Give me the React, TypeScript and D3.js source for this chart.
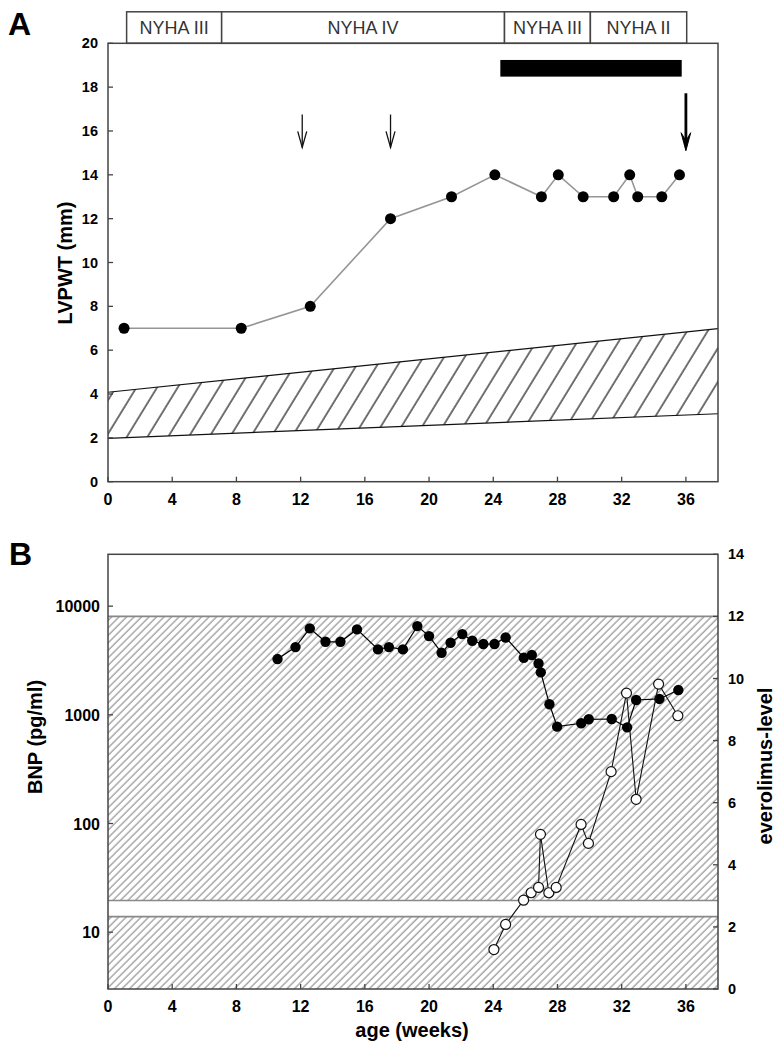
import React from "react";
import * as d3 from "d3";

// ---------- Panel A data ----------
const lvWeeks = [1.0, 8.3, 12.6, 17.6, 21.4, 24.1, 27.0, 28.05, 29.6, 31.5, 32.5, 33.0, 34.5, 35.6];
const lvValues = [7, 7, 8, 12, 13, 14, 13, 14, 13, 13, 14, 13, 13, 14];
const normalWeeks = [0, 38];
const normalUpper = [4.08, 6.98];
const normalLower = [1.98, 3.1];
const nyhaLabels = ["NYHA III", "NYHA IV", "NYHA III", "NYHA II"];
const nyhaBounds = [1.16, 7.08, 24.7, 30.05, 36.05];
const therapyBar = [24.44, 35.74]; // weeks
const therapyBarY = [18.48, 19.24];
const thinArrowWeeks = [12.1, 17.6];
const thickArrowWeek = 36.0;
const yTicksA = [0, 2, 4, 6, 8, 10, 12, 14, 16, 18, 20];
const xTicks = [0, 4, 8, 12, 16, 20, 24, 28, 32, 36];

// ---------- Panel B data ----------
const bnpWeeks = [10.56, 11.68, 12.57, 13.55, 14.48, 15.51, 16.82, 17.5, 18.37, 19.27, 20.0, 20.78, 21.34, 22.07, 22.69, 23.38, 24.08, 24.77, 25.9, 26.4, 26.82, 26.96, 27.5, 27.98, 29.48, 29.95, 31.38, 32.34, 32.9, 34.35, 35.53];
const bnpValues = [3260, 4200, 6240, 4700, 4700, 6110, 4000, 4200, 4000, 6550, 5300, 3720, 4600, 5530, 4800, 4480, 4480, 5150, 3350, 3550, 2970, 2460, 1250, 778, 836, 910, 915, 767, 1370, 1400, 1690];
const evWeeks = [24.04, 24.77, 25.89, 26.36, 26.82, 26.94, 27.46, 27.92, 29.47, 29.93, 31.34, 32.3, 32.9, 34.3, 35.5];
const evValues = [1.27, 2.08, 2.86, 3.1, 3.27, 4.98, 3.1, 3.27, 5.3, 4.69, 7.0, 9.53, 6.11, 9.82, 8.8];
const bnpTicks = [10, 100, 1000, 10000];
const evTicks = [0, 2, 4, 6, 8, 10, 12, 14];
const evBandUpper = [2.85, 12];
const evBandLower = [0, 2.33];

const FONT = "'Liberation Sans', Arial, sans-serif";

export default function App() {
  // scales
  const xA = d3.scaleLinear().domain([0, 38]).range([108, 718]);
  const yA = d3.scaleLinear().domain([0, 20]).range([481.7, 43.3]);
  const xB = d3.scaleLinear().domain([0, 38]).range([108, 718]);
  const yBnp = d3.scaleLog().domain([3, 30000]).range([989, 554.3]);
  const yEv = d3.scaleLinear().domain([0, 14]).range([989, 554.3]);

  const lvLine = d3.line<number>().x((_, i) => xA(lvWeeks[i])).y((d) => yA(d));
  const bandArea = d3
    .area<number>()
    .x((d) => xA(d))
    .y0((_, i) => yA(normalLower[i]))
    .y1((_, i) => yA(normalUpper[i]));
  const bnpLine = d3.line<number>().x((_, i) => xB(bnpWeeks[i])).y((d) => yBnp(d));
  const evLine = d3.line<number>().x((_, i) => xB(evWeeks[i])).y((d) => yEv(d));

  const frameColor = "#444";
  const xl = xA(0), xr = xA(38);
  const nyhaTop = yA(20) - 31.5;

  return (
    <svg
      width={781}
      height={1049}
      style={{ position: "absolute", left: 0, top: 0, background: "#fff" }}
      fontFamily={FONT}
    >
      <defs>
        <pattern id="hatchA" patternUnits="userSpaceOnUse" width={17.6} height={40} patternTransform="rotate(31.5)">
          <line x1={2} y1={0} x2={2} y2={40} stroke="#000" strokeWidth={1.1} />
        </pattern>
        <pattern id="hatchB" patternUnits="userSpaceOnUse" width={5.3} height={20} patternTransform="rotate(45)">
          <line x1={1} y1={0} x2={1} y2={20} stroke="#6f6f6f" strokeWidth={0.9} />
        </pattern>
      </defs>

      {/* ================= PANEL A ================= */}
      <text x={8} y={35} fontSize={32} fontWeight="bold">A</text>

      {/* NYHA boxes */}
      {nyhaLabels.map((lab, i) => {
        const x0 = xA(nyhaBounds[i]);
        const x1 = xA(nyhaBounds[i + 1]);
        return (
          <g key={"ny" + i}>
            <rect x={x0} y={nyhaTop} width={x1 - x0} height={yA(20) - nyhaTop} fill="#fff" stroke={frameColor} strokeWidth={1.5} />
            <text x={(x0 + x1) / 2} y={nyhaTop + 22} textAnchor="middle" fontSize={18} fill="#333">
              {lab}
            </text>
          </g>
        );
      })}

      {/* normal range band */}
      <path d={bandArea(normalWeeks) || ""} fill="url(#hatchA)" stroke="none" />
      <line x1={xA(normalWeeks[0])} y1={yA(normalUpper[0])} x2={xA(normalWeeks[1])} y2={yA(normalUpper[1])} stroke="#111" strokeWidth={1.2} />
      <line x1={xA(normalWeeks[0])} y1={yA(normalLower[0])} x2={xA(normalWeeks[1])} y2={yA(normalLower[1])} stroke="#111" strokeWidth={1.2} />

      {/* therapy bar */}
      <rect
        x={xA(therapyBar[0])}
        y={yA(therapyBarY[1])}
        width={xA(therapyBar[1]) - xA(therapyBar[0])}
        height={yA(therapyBarY[0]) - yA(therapyBarY[1])}
        fill="#000"
      />

      {/* arrows */}
      {thinArrowWeeks.map((w, i) => {
        const x = xA(w);
        const yt = yA(16.75);
        const yb = yA(15.25);
        return (
          <g key={"ar" + i} stroke="#111" strokeWidth={1.3} fill="none">
            <line x1={x} y1={yt} x2={x} y2={yb} />
            <path d={`M${x - 4.5},${yb - 16} L${x},${yb} L${x + 4.5},${yb - 16}`} />
          </g>
        );
      })}
      {(() => {
        const x = xA(thickArrowWeek);
        const yt = yA(17.72);
        const yb = yA(15.1);
        return (
          <g>
            <line x1={x} y1={yt} x2={x} y2={yb - 6} stroke="#000" strokeWidth={2.8} />
            <path d={`M${x - 4.8},${yb - 18} L${x},${yb} L${x + 4.8},${yb - 18} L${x},${yb - 10} Z`} fill="#000" stroke="#000" strokeWidth={1} />
          </g>
        );
      })()}

      {/* LVPWT line and points */}
      <path d={lvLine(lvValues) || ""} fill="none" stroke="#959595" strokeWidth={1.6} />
      {lvValues.map((v, i) => (
        <circle key={"lv" + i} cx={xA(lvWeeks[i])} cy={yA(v)} r={5.5} fill="#000" />
      ))}

      {/* frame A */}
      <rect x={xl} y={yA(20)} width={xr - xl} height={yA(0) - yA(20)} fill="none" stroke={frameColor} strokeWidth={1.5} />
      {yTicksA.map((t) => (
        <g key={"ya" + t}>
          <line x1={xl} x2={xl + 5} y1={yA(t)} y2={yA(t)} stroke={frameColor} strokeWidth={1.3} />
          <text x={98} y={yA(t) + 5} textAnchor="end" fontSize={14.5} fontWeight="bold">{t}</text>
        </g>
      ))}
      {xTicks.map((t) => (
        <g key={"xa" + t}>
          <line x1={xA(t)} x2={xA(t)} y1={yA(0)} y2={yA(0) - 5} stroke={frameColor} strokeWidth={1.3} />
          <text x={xA(t)} y={505} textAnchor="middle" fontSize={16} fontWeight="bold">{t}</text>
        </g>
      ))}
      <text transform={`translate(72,263) rotate(-90)`} textAnchor="middle" fontSize={20} fontWeight="bold">
        LVPWT (mm)
      </text>

      {/* ================= PANEL B ================= */}
      <text x={9} y={565} fontSize={32} fontWeight="bold">B</text>

      {/* hatched bands */}
      <rect x={xB(0)} y={yEv(evBandUpper[1])} width={xB(38) - xB(0)} height={yEv(evBandUpper[0]) - yEv(evBandUpper[1])} fill="url(#hatchB)" />
      <rect x={xB(0)} y={yEv(evBandLower[1])} width={xB(38) - xB(0)} height={yEv(evBandLower[0]) - yEv(evBandLower[1])} fill="url(#hatchB)" />
      {[evBandUpper[1], evBandUpper[0], evBandLower[1]].map((v, i) => (
        <line key={"bl" + i} x1={xB(0)} x2={xB(38)} y1={yEv(v)} y2={yEv(v)} stroke="#888" strokeWidth={1.6} />
      ))}

      {/* BNP series */}
      <path d={bnpLine(bnpValues) || ""} fill="none" stroke="#000" strokeWidth={1.2} />
      {bnpValues.map((v, i) => (
        <circle key={"bnp" + i} cx={xB(bnpWeeks[i])} cy={yBnp(v)} r={5.2} fill="#000" />
      ))}

      {/* everolimus series */}
      <path d={evLine(evValues) || ""} fill="none" stroke="#111" strokeWidth={1.1} />
      {evValues.map((v, i) => (
        <circle key={"ev" + i} cx={xB(evWeeks[i])} cy={yEv(v)} r={5} fill="#fff" stroke="#111" strokeWidth={1.2} />
      ))}

      {/* frame B */}
      <rect x={xB(0)} y={yEv(14)} width={xB(38) - xB(0)} height={yEv(0) - yEv(14)} fill="none" stroke={frameColor} strokeWidth={1.5} />
      {bnpTicks.map((t) => (
        <g key={"yb" + t}>
          <line x1={xB(0)} x2={xB(0) + 5} y1={yBnp(t)} y2={yBnp(t)} stroke={frameColor} strokeWidth={1.3} />
          <text x={100} y={yBnp(t) + 6} textAnchor="end" fontSize={16} fontWeight="bold">{t}</text>
        </g>
      ))}
      {evTicks.map((t) => (
        <g key={"ye" + t}>
          <line x1={xB(38)} x2={xB(38) - 5} y1={yEv(t)} y2={yEv(t)} stroke={frameColor} strokeWidth={1.3} />
          <text x={728} y={yEv(t) + 5} textAnchor="start" fontSize={14.5} fontWeight="bold">{t}</text>
        </g>
      ))}
      {xTicks.map((t) => (
        <g key={"xb" + t}>
          <line x1={xB(t)} x2={xB(t)} y1={yEv(0)} y2={yEv(0) - 5} stroke={frameColor} strokeWidth={1.3} />
          <text x={xB(t)} y={1012} textAnchor="middle" fontSize={16} fontWeight="bold">{t}</text>
        </g>
      ))}
      <text transform={`translate(42,737) rotate(-90)`} textAnchor="middle" fontSize={20} fontWeight="bold">
        BNP (pg/ml)
      </text>
      <text transform={`translate(772,766) rotate(-90)`} textAnchor="middle" fontSize={20} fontWeight="bold">
        everolimus-level
      </text>
      <text x={412} y={1037} textAnchor="middle" fontSize={20} fontWeight="bold">
        age (weeks)
      </text>
    </svg>
  );
}
